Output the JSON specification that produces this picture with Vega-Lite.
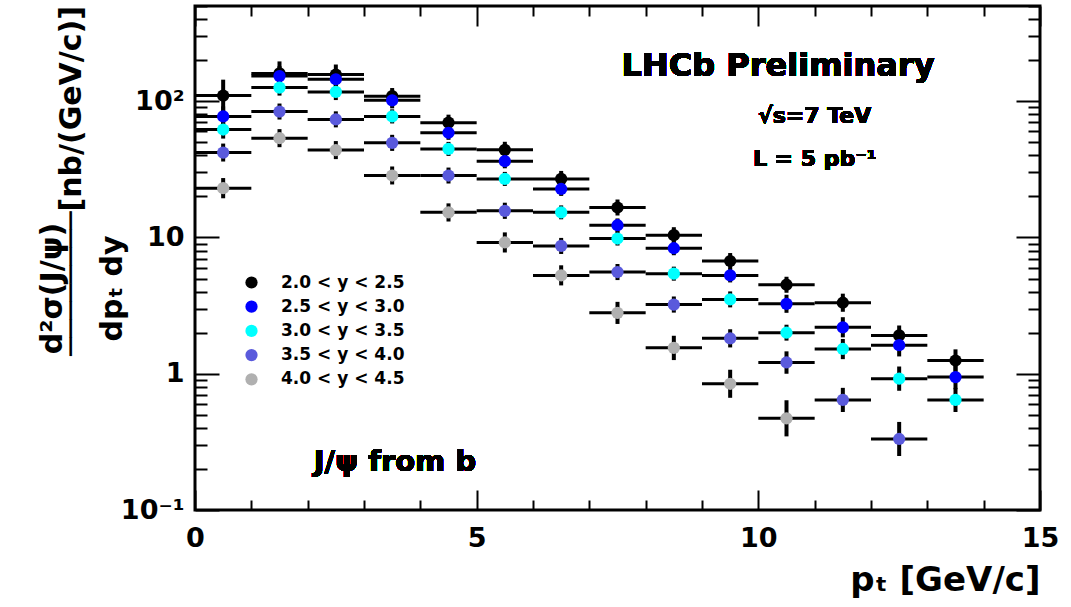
{
  "$schema": "https://vega.github.io/schema/vega-lite/v6.json",
  "width": 845,
  "height": 504,
  "autosize": {"type": "none"},
  "padding": {"left": 195, "top": 6, "right": 31, "bottom": 97},
  "background": "white",
  "config": {
    "view": {"stroke": "black", "strokeWidth": 3},
    "font": "DejaVu Sans",
    "axis": {"domain": false, "grid": false, "tickColor": "black", "tickWidth": 2, "labelFont": "DejaVu Sans", "labelFontWeight": "bold", "labelColor": "black", "labelFontSize": 27}
  },
  "title": {"text": "────────[nb/(GeV/c)]", "orient": "left", "anchor": "end", "frame": "group", "font": "DejaVu Sans", "fontWeight": "bold", "fontSize": 30, "color": "black", "offset": -50},
  "datasets": {
    "pts": [
      {"s": "2.0 < y < 2.5", "pt": 0.5, "xlo": 0, "xhi": 1, "v": 110, "lo": 83.8, "hi": 144},
      {"s": "2.0 < y < 2.5", "pt": 1.5, "xlo": 1, "xhi": 2, "v": 160, "lo": 130, "hi": 196},
      {"s": "2.0 < y < 2.5", "pt": 2.5, "xlo": 2, "xhi": 3, "v": 157, "lo": 132, "hi": 186},
      {"s": "2.0 < y < 2.5", "pt": 3.5, "xlo": 3, "xhi": 4, "v": 109, "lo": 95, "hi": 125},
      {"s": "2.0 < y < 2.5", "pt": 4.5, "xlo": 4, "xhi": 5, "v": 69.6, "lo": 60.8, "hi": 79.7},
      {"s": "2.0 < y < 2.5", "pt": 5.5, "xlo": 5, "xhi": 6, "v": 44, "lo": 38.4, "hi": 50.4},
      {"s": "2.0 < y < 2.5", "pt": 6.5, "xlo": 6, "xhi": 7, "v": 26.9, "lo": 23.5, "hi": 30.8},
      {"s": "2.0 < y < 2.5", "pt": 7.5, "xlo": 7, "xhi": 8, "v": 16.6, "lo": 14.5, "hi": 19.0},
      {"s": "2.0 < y < 2.5", "pt": 8.5, "xlo": 8, "xhi": 9, "v": 10.4, "lo": 9.08, "hi": 11.9},
      {"s": "2.0 < y < 2.5", "pt": 9.5, "xlo": 9, "xhi": 10, "v": 6.72, "lo": 5.87, "hi": 7.69},
      {"s": "2.0 < y < 2.5", "pt": 10.5, "xlo": 10, "xhi": 11, "v": 4.5, "lo": 3.93, "hi": 5.15},
      {"s": "2.0 < y < 2.5", "pt": 11.5, "xlo": 11, "xhi": 12, "v": 3.32, "lo": 2.85, "hi": 3.87},
      {"s": "2.0 < y < 2.5", "pt": 12.5, "xlo": 12, "xhi": 13, "v": 1.91, "lo": 1.61, "hi": 2.26},
      {"s": "2.0 < y < 2.5", "pt": 13.5, "xlo": 13, "xhi": 14, "v": 1.25, "lo": 1.04, "hi": 1.51},
      {"s": "2.5 < y < 3.0", "pt": 0.5, "xlo": 0, "xhi": 1, "v": 77.4, "lo": 65.3, "hi": 91.7},
      {"s": "2.5 < y < 3.0", "pt": 1.5, "xlo": 1, "xhi": 2, "v": 153, "lo": 129, "hi": 181},
      {"s": "2.5 < y < 3.0", "pt": 2.5, "xlo": 2, "xhi": 3, "v": 145, "lo": 127, "hi": 166},
      {"s": "2.5 < y < 3.0", "pt": 3.5, "xlo": 3, "xhi": 4, "v": 101.6, "lo": 88.7, "hi": 116},
      {"s": "2.5 < y < 3.0", "pt": 4.5, "xlo": 4, "xhi": 5, "v": 58.7, "lo": 52.1, "hi": 66.1},
      {"s": "2.5 < y < 3.0", "pt": 5.5, "xlo": 5, "xhi": 6, "v": 36.3, "lo": 32.2, "hi": 40.9},
      {"s": "2.5 < y < 3.0", "pt": 6.5, "xlo": 6, "xhi": 7, "v": 22.7, "lo": 20.2, "hi": 25.6},
      {"s": "2.5 < y < 3.0", "pt": 7.5, "xlo": 7, "xhi": 8, "v": 12.3, "lo": 10.9, "hi": 13.8},
      {"s": "2.5 < y < 3.0", "pt": 8.5, "xlo": 8, "xhi": 9, "v": 8.34, "lo": 7.41, "hi": 9.39},
      {"s": "2.5 < y < 3.0", "pt": 9.5, "xlo": 9, "xhi": 10, "v": 5.27, "lo": 4.68, "hi": 5.93},
      {"s": "2.5 < y < 3.0", "pt": 10.5, "xlo": 10, "xhi": 11, "v": 3.26, "lo": 2.8, "hi": 3.8},
      {"s": "2.5 < y < 3.0", "pt": 11.5, "xlo": 11, "xhi": 12, "v": 2.19, "lo": 1.85, "hi": 2.6},
      {"s": "2.5 < y < 3.0", "pt": 12.5, "xlo": 12, "xhi": 13, "v": 1.62, "lo": 1.34, "hi": 1.95},
      {"s": "2.5 < y < 3.0", "pt": 13.5, "xlo": 13, "xhi": 14, "v": 0.945, "lo": 0.77, "hi": 1.16},
      {"s": "3.0 < y < 3.5", "pt": 0.5, "xlo": 0, "xhi": 1, "v": 62, "lo": 53.2, "hi": 72.2},
      {"s": "3.0 < y < 3.5", "pt": 1.5, "xlo": 1, "xhi": 2, "v": 126, "lo": 110, "hi": 144},
      {"s": "3.0 < y < 3.5", "pt": 2.5, "xlo": 2, "xhi": 3, "v": 117, "lo": 102, "hi": 134},
      {"s": "3.0 < y < 3.5", "pt": 3.5, "xlo": 3, "xhi": 4, "v": 77.4, "lo": 68.7, "hi": 87.2},
      {"s": "3.0 < y < 3.5", "pt": 4.5, "xlo": 4, "xhi": 5, "v": 44.7, "lo": 39.7, "hi": 50.3},
      {"s": "3.0 < y < 3.5", "pt": 5.5, "xlo": 5, "xhi": 6, "v": 26.9, "lo": 23.9, "hi": 30.3},
      {"s": "3.0 < y < 3.5", "pt": 6.5, "xlo": 6, "xhi": 7, "v": 15.3, "lo": 13.6, "hi": 17.2},
      {"s": "3.0 < y < 3.5", "pt": 7.5, "xlo": 7, "xhi": 8, "v": 9.83, "lo": 8.73, "hi": 11.1},
      {"s": "3.0 < y < 3.5", "pt": 8.5, "xlo": 8, "xhi": 9, "v": 5.43, "lo": 4.82, "hi": 6.11},
      {"s": "3.0 < y < 3.5", "pt": 9.5, "xlo": 9, "xhi": 10, "v": 3.51, "lo": 3.07, "hi": 4.02},
      {"s": "3.0 < y < 3.5", "pt": 10.5, "xlo": 10, "xhi": 11, "v": 2.0, "lo": 1.75, "hi": 2.29},
      {"s": "3.0 < y < 3.5", "pt": 11.5, "xlo": 11, "xhi": 12, "v": 1.52, "lo": 1.28, "hi": 1.8},
      {"s": "3.0 < y < 3.5", "pt": 12.5, "xlo": 12, "xhi": 13, "v": 0.92, "lo": 0.75, "hi": 1.13},
      {"s": "3.0 < y < 3.5", "pt": 13.5, "xlo": 13, "xhi": 14, "v": 0.643, "lo": 0.524, "hi": 0.788},
      {"s": "3.5 < y < 4.0", "pt": 0.5, "xlo": 0, "xhi": 1, "v": 42, "lo": 36.1, "hi": 48.9},
      {"s": "3.5 < y < 4.0", "pt": 1.5, "xlo": 1, "xhi": 2, "v": 84, "lo": 73.4, "hi": 96.2},
      {"s": "3.5 < y < 4.0", "pt": 2.5, "xlo": 2, "xhi": 3, "v": 73.6, "lo": 64.3, "hi": 84.3},
      {"s": "3.5 < y < 4.0", "pt": 3.5, "xlo": 3, "xhi": 4, "v": 49.5, "lo": 43.2, "hi": 56.7},
      {"s": "3.5 < y < 4.0", "pt": 4.5, "xlo": 4, "xhi": 5, "v": 28.5, "lo": 24.9, "hi": 32.6},
      {"s": "3.5 < y < 4.0", "pt": 5.5, "xlo": 5, "xhi": 6, "v": 15.7, "lo": 13.7, "hi": 18.0},
      {"s": "3.5 < y < 4.0", "pt": 6.5, "xlo": 6, "xhi": 7, "v": 8.67, "lo": 7.57, "hi": 9.93},
      {"s": "3.5 < y < 4.0", "pt": 7.5, "xlo": 7, "xhi": 8, "v": 5.58, "lo": 4.87, "hi": 6.39},
      {"s": "3.5 < y < 4.0", "pt": 8.5, "xlo": 8, "xhi": 9, "v": 3.22, "lo": 2.81, "hi": 3.69},
      {"s": "3.5 < y < 4.0", "pt": 9.5, "xlo": 9, "xhi": 10, "v": 1.82, "lo": 1.56, "hi": 2.12},
      {"s": "3.5 < y < 4.0", "pt": 10.5, "xlo": 10, "xhi": 11, "v": 1.21, "lo": 1.0, "hi": 1.46},
      {"s": "3.5 < y < 4.0", "pt": 11.5, "xlo": 11, "xhi": 12, "v": 0.643, "lo": 0.524, "hi": 0.788},
      {"s": "3.5 < y < 4.0", "pt": 12.5, "xlo": 12, "xhi": 13, "v": 0.332, "lo": 0.249, "hi": 0.443},
      {"s": "4.0 < y < 4.5", "pt": 0.5, "xlo": 0, "xhi": 1, "v": 23, "lo": 19.4, "hi": 27.3},
      {"s": "4.0 < y < 4.5", "pt": 1.5, "xlo": 1, "xhi": 2, "v": 53.6, "lo": 46, "hi": 62.4},
      {"s": "4.0 < y < 4.5", "pt": 2.5, "xlo": 2, "xhi": 3, "v": 43.8, "lo": 37.6, "hi": 51},
      {"s": "4.0 < y < 4.5", "pt": 3.5, "xlo": 3, "xhi": 4, "v": 28.5, "lo": 24.5, "hi": 33.2},
      {"s": "4.0 < y < 4.5", "pt": 4.5, "xlo": 4, "xhi": 5, "v": 15.3, "lo": 13.1, "hi": 17.8},
      {"s": "4.0 < y < 4.5", "pt": 5.5, "xlo": 5, "xhi": 6, "v": 9.19, "lo": 7.76, "hi": 10.9},
      {"s": "4.0 < y < 4.5", "pt": 6.5, "xlo": 6, "xhi": 7, "v": 5.27, "lo": 4.45, "hi": 6.25},
      {"s": "4.0 < y < 4.5", "pt": 7.5, "xlo": 7, "xhi": 8, "v": 2.8, "lo": 2.32, "hi": 3.37},
      {"s": "4.0 < y < 4.5", "pt": 8.5, "xlo": 8, "xhi": 9, "v": 1.55, "lo": 1.26, "hi": 1.9},
      {"s": "4.0 < y < 4.5", "pt": 9.5, "xlo": 9, "xhi": 10, "v": 0.844, "lo": 0.666, "hi": 1.07},
      {"s": "4.0 < y < 4.5", "pt": 10.5, "xlo": 10, "xhi": 11, "v": 0.471, "lo": 0.347, "hi": 0.639}
    ]
  },
  "data": {"name": "pts"},
  "resolve": {"axis": {"x": "independent", "y": "independent"}},
  "layer": [
    {
      "layer": [
        {
          "mark": {"type": "rule", "color": "black", "strokeWidth": 3},
          "encoding": {
            "x": {"field": "xlo", "type": "quantitative", "scale": {"domain": [0, 15], "nice": false, "zero": false},
              "axis": {"orient": "bottom", "title": "pₜ [GeV/c]", "titleFont": "DejaVu Sans", "titleFontWeight": "bold", "titleFontSize": 34, "titleColor": "black", "titleAnchor": "end", "titleAlign": "right", "titleBaseline": "middle", "titleX": 845, "titleY": 70,
                "values": [0, 1, 2, 3, 4, 5, 6, 7, 8, 9, 10, 11, 12, 13, 14, 15],
                "labelExpr": "datum.value % 5 === 0 ? format(datum.value, 'd') : ''", "labelPadding": 35, "labelFlush": false, "labelOverlap": false,
                "tickSize": {"condition": {"test": "datum.value % 5 === 0", "value": -20}, "value": -10}}},
            "x2": {"field": "xhi"},
            "y": {"field": "v", "type": "quantitative", "scale": {"type": "log", "domain": [0.1, 500], "nice": false},
              "axis": {"orient": "left", "title": ["d²σ(J/ψ)", "dpₜ dy"], "titleFont": "DejaVu Sans", "titleFontWeight": "bold", "titleFontSize": 30, "titleColor": "black", "titleLineHeight": 60, "titleAngle": -90, "titleBaseline": "middle", "titleAlign": "center", "titleX": -143, "titleY": 282,
                "values": [0.1, 0.2, 0.3, 0.4, 0.5, 0.6, 0.7, 0.8, 0.9, 1, 2, 3, 4, 5, 6, 7, 8, 9, 10, 20, 30, 40, 50, 60, 70, 80, 90, 100, 200, 300, 400, 500],
                "labelExpr": "datum.value === 100 ? '10²' : datum.value === 10 ? '10' : datum.value === 1 ? '1' : datum.value === 0.1 ? '10⁻¹' : ''", "labelPadding": 35, "labelOverlap": false, "labelFlush": false,
                "tickSize": {"condition": {"test": "abs(log(datum.value)/LN10 - round(log(datum.value)/LN10)) < 0.001", "value": -24}, "value": -12}}}
          }
        },
        {
          "mark": {"type": "rule", "color": "black", "strokeWidth": 4},
          "encoding": {
            "x": {"field": "pt", "type": "quantitative"},
            "y": {"field": "lo", "type": "quantitative"},
            "y2": {"field": "hi"}
          }
        },
        {
          "mark": {"type": "point", "shape": "circle", "filled": true, "size": 150, "opacity": 1, "strokeWidth": 0},
          "encoding": {
            "x": {"field": "pt", "type": "quantitative"},
            "y": {"field": "v", "type": "quantitative"},
            "color": {"field": "s", "type": "nominal", "sort": null,
              "scale": {"domain": ["2.0 < y < 2.5", "2.5 < y < 3.0", "3.0 < y < 3.5", "3.5 < y < 4.0", "4.0 < y < 4.5"], "range": ["#000000", "#0000ff", "#00ffff", "#5a5adc", "#b0b0b0"]},
              "legend": {"title": null, "orient": "none", "legendX": 48, "legendY": 268, "padding": 0, "labelFont": "DejaVu Sans", "labelFontWeight": "bold", "labelFontSize": 17, "labelColor": "black", "symbolSize": 150, "symbolType": "circle", "symbolStrokeWidth": 0, "rowPadding": 6.2, "labelOffset": 21}}
          }
        },
        {
          "mark": {"type": "text", "font": "DejaVu Sans", "fontWeight": "bold", "fontSize": 32, "align": "center", "baseline": "middle", "color": "black"},
          "encoding": {"x": {"datum": 10.35}, "y": {"datum": 180}, "text": {"value": "LHCb Preliminary"}}
        },
        {
          "mark": {"type": "text", "font": "DejaVu Sans", "fontWeight": "bold", "fontSize": 22, "align": "center", "baseline": "middle", "color": "black"},
          "encoding": {"x": {"datum": 11.0}, "y": {"datum": 78}, "text": {"value": "√s=7 TeV"}}
        },
        {
          "mark": {"type": "text", "font": "DejaVu Sans", "fontWeight": "bold", "fontSize": 22, "align": "center", "baseline": "middle", "color": "black"},
          "encoding": {"x": {"datum": 11.0}, "y": {"datum": 37.8}, "text": {"value": "L = 5 pb⁻¹"}}
        },
        {
          "mark": {"type": "text", "font": "DejaVu Sans", "fontWeight": "bold", "fontSize": 29, "align": "center", "baseline": "middle", "color": "black"},
          "encoding": {"x": {"datum": 3.55}, "y": {"datum": 0.225}, "text": {"value": "J/ψ from b"}}
        }
      ]
    },
    {
      "mark": {"type": "point", "opacity": 0},
      "encoding": {
        "x": {"field": "pt", "type": "quantitative", "scale": {"domain": [0, 15], "nice": false, "zero": false},
          "axis": {"orient": "top", "title": null, "labels": false, "values": [0, 1, 2, 3, 4, 5, 6, 7, 8, 9, 10, 11, 12, 13, 14, 15],
            "tickSize": {"condition": {"test": "datum.value % 5 === 0", "value": -20}, "value": -10}}},
        "y": {"field": "v", "type": "quantitative", "scale": {"type": "log", "domain": [0.1, 500], "nice": false},
          "axis": {"orient": "right", "title": null, "labels": false,
            "values": [0.1, 0.2, 0.3, 0.4, 0.5, 0.6, 0.7, 0.8, 0.9, 1, 2, 3, 4, 5, 6, 7, 8, 9, 10, 20, 30, 40, 50, 60, 70, 80, 90, 100, 200, 300, 400, 500],
            "tickSize": {"condition": {"test": "abs(log(datum.value)/LN10 - round(log(datum.value)/LN10)) < 0.001", "value": -24}, "value": -12}}}
      }
    }
  ]
}
